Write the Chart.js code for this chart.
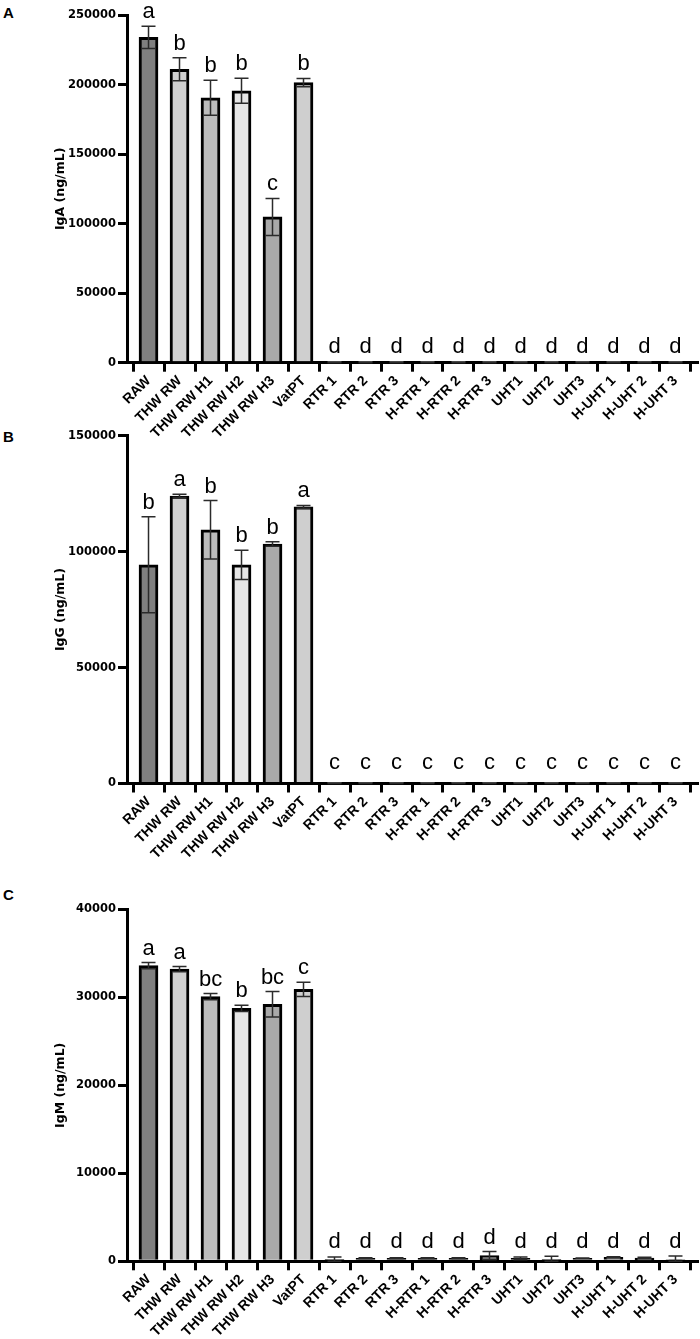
<!DOCTYPE html>
<html><head><meta charset="utf-8">
<script src="https://cdn.jsdelivr.net/npm/chart.js@4.4.0/dist/chart.umd.min.js"></script>
<style>
body{margin:0;background:#fff;width:700px;height:1339px;position:relative;overflow:hidden}
.wrap{position:absolute;left:0;width:700px}
.pl{position:absolute;left:3px;font:bold 15px "Liberation Sans",Arial,sans-serif;color:#000}
</style></head><body>
<div class="pl" style="top:4px">A</div>
<div class="pl" style="top:428px">B</div>
<div class="pl" style="top:886px">C</div>
<div class="wrap" style="top:0;height:445px"><canvas id="cA"></canvas></div>
<div class="wrap" style="top:420px;height:445px"><canvas id="cB"></canvas></div>
<div class="wrap" style="top:894px;height:445px"><canvas id="cC"></canvas></div>
<script>
const categories = ["RAW","THW RW","THW RW H1","THW RW H2","THW RW H3","VatPT","RTR 1","RTR 2","RTR 3","H-RTR 1","H-RTR 2","H-RTR 3","UHT1","UHT2","UHT3","H-UHT 1","H-UHT 2","H-UHT 3"];
const barColors = ["#7f7f7f","#d0d0d0","#bcbcbc","#e6e6e6","#a9a9a9","#cfcfcf","#8a8a8a","#8a8a8a","#8a8a8a","#8a8a8a","#8a8a8a","#8a8a8a","#8a8a8a","#8a8a8a","#8a8a8a","#8a8a8a","#8a8a8a","#8a8a8a"];

const igaMean = [234000,211000,190500,195500,104800,201400,150,150,150,150,150,150,150,150,150,150,150,150];
const igaErr  = [8000,8300,12500,9000,13300,3000,100,100,100,100,100,100,100,100,100,100,100,100];
const igaLetters = ["a","b","b","b","c","b","d","d","d","d","d","d","d","d","d","d","d","d"];
const igaTicks = [0,50000,100000,150000,200000,250000];

const iggMean = [94300,124000,109400,94300,103300,119300,100,100,100,100,100,100,100,100,100,100,100,100];
const iggErr  = [20700,700,12600,6300,1000,600,80,80,80,80,80,80,80,80,80,80,80,80];
const iggLetters = ["b","a","b","b","b","a","c","c","c","c","c","c","c","c","c","c","c","c"];
const iggTicks = [0,50000,100000,150000];

const igmMean = [33600,33200,30070,28750,29200,30900,230,340,340,340,340,650,340,230,340,460,380,200];
const igmErr  = [350,300,350,350,1450,800,270,60,60,50,50,450,160,340,30,70,80,400];
const igmLetters = ["a","a","bc","b","bc","c","d","d","d","d","d","d","d","d","d","d","d","d"];
const igmTicks = [0,10000,20000,30000,40000];

const Y_FONT = {family:"'DejaVu Sans', sans-serif", weight:'bold', size:11.5};
const X_FONT = {family:"'Liberation Sans', Arial, sans-serif", weight:'bold', size:14};

const errPlugin = {
  id:'errLetters',
  afterDatasetsDraw(chart, args, opts){
    const ctx = chart.ctx, xs = chart.scales.x, ys = chart.scales.y;
    const base = ys.getPixelForValue(0);
    ctx.save();
    opts.mean.forEach((m,i)=>{
      const x = xs.getPixelForValue(i);
      const yt = ys.getPixelForValue(m + opts.err[i]);
      const yb = ys.getPixelForValue(Math.max(0, m - opts.err[i]));
      ctx.strokeStyle = '#2b2b2b'; ctx.lineWidth = 1.5;
      ctx.beginPath();
      ctx.moveTo(x, yt); ctx.lineTo(x, yb);
      ctx.moveTo(x-7, yt); ctx.lineTo(x+7, yt);
      ctx.moveTo(x-7, yb); ctx.lineTo(x+7, yb);
      ctx.stroke();
      const ly = Math.min(yt - 8, base - opts.minOff);
      ctx.fillStyle = '#000';
      ctx.font = "22px 'Liberation Sans', Arial, sans-serif";
      ctx.textAlign = 'center'; ctx.textBaseline = 'alphabetic';
      ctx.fillText(opts.letters[i], x, ly);
    });
    ctx.restore();
  }
};

function makeChart(id, mean, err, letters, ticks, title, padTop, axisH, minOff){
  const maxV = ticks[ticks.length-1];
  const step = ticks[1]-ticks[0];
  return new Chart(document.getElementById(id), {
    type:'bar',
    data:{datasets:[{
      data: mean.map((v,i)=>({x:i, y:v})),
      backgroundColor: barColors,
      borderColor:'#000',
      borderWidth:3,
      borderSkipped:'bottom',
      barThickness:19
    }]},
    options:{
      responsive:true, maintainAspectRatio:false, animation:false,
      layout:{padding:{top:padTop, right:3, left:0, bottom:0}},
      plugins:{legend:{display:false}, tooltip:{enabled:false},
        errLetters:{mean, err, letters, minOff}},
      scales:{
        x:{type:'linear', min:-0.694, max:17.694, offset:false,
          grid:{display:true, drawOnChartArea:false, drawTicks:true, tickLength:9, color:'#000', lineWidth:3},
          border:{display:true, color:'#000', width:3},
          ticks:{stepSize:1, includeBounds:false, autoSkip:false, maxRotation:45, minRotation:45, padding:1,
            color:'#000', font:X_FONT, callback:(v)=>categories[v]},
          afterFit:(s)=>{s.height = axisH;}
        },
        y:{type:'linear', min:0, max:maxV,
          grid:{display:true, drawOnChartArea:false, drawTicks:true, tickLength:9, color:'#000', lineWidth:3},
          border:{display:true, color:'#000', width:3},
          ticks:{stepSize:step, padding:2, color:'#000', font:Y_FONT, callback:(v)=>String(v)},
          title:{display:true, text:title, color:'#000', font:{family:"'DejaVu Sans', sans-serif", weight:'bold', size:12.5}, padding:{top:53, bottom:0}},
          afterFit:(s)=>{s.width = 127;}
        }
      }
    },
    plugins:[errPlugin]
  });
}

makeChart('cA', igaMean, igaErr, igaLetters, igaTicks, 'IgA (ng/mL)', 15, 82.3, 10);
makeChart('cB', iggMean, iggErr, iggLetters, iggTicks, 'IgG (ng/mL)', 15.7, 81.5, 15);
makeChart('cC', igmMean, igmErr, igmLetters, igmTicks, 'IgM (ng/mL)', 15.3, 77.7, 13);
</script>
</body></html>
